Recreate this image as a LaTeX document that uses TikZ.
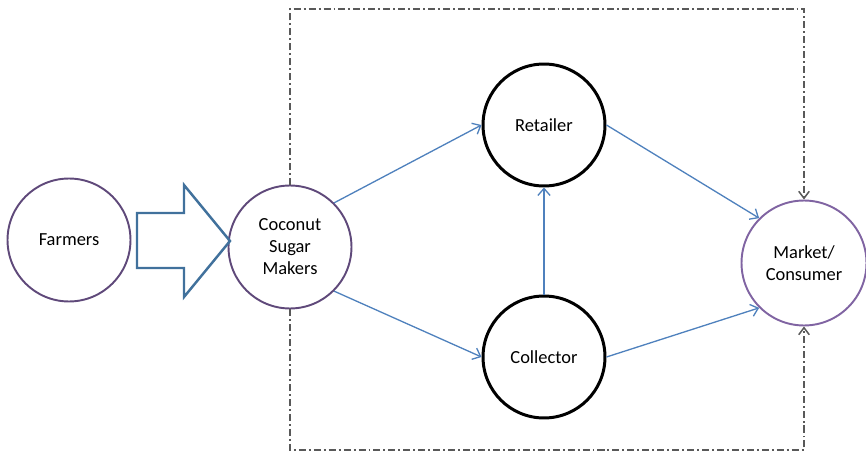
\documentclass[tikz,border=0pt]{standalone}
\usepackage{fontspec}
\setmainfont{Carlito}
\usetikzlibrary{arrows.meta}

\definecolor{ringpurple}{HTML}{5F497A}
\definecolor{marketpurple}{HTML}{8064A2}
\definecolor{flowblue}{HTML}{4F81BD}
\definecolor{pushblue}{HTML}{41719C}
\definecolor{bordergray}{HTML}{595959}

\tikzset{
	actor/.style={circle, draw=ringpurple, line width=1.1pt, minimum size=2.46cm, inner sep=0pt, align=center},
	trader/.style={circle, draw=black, line width=1.7pt, minimum size=2.44cm, inner sep=0pt, align=center},
	flow/.style={flowblue, line width=0.75pt, -{Straight Barb[length=4pt,width=7pt]}},
	border/.style={bordergray, line width=0.85pt, dash pattern=on 4pt off 1.7pt on 1.1pt off 1.7pt},
}

\begin{document}
\begin{tikzpicture}[x=0.02cm, y=-0.02cm, font=\fontsize{10.5}{12.5}\selectfont]
	
	\useasboundingbox (0,0) rectangle (866,453);
	
	% the chain
	\node[actor] (farmers) at (69,240) {Farmers};
	\node[actor] (makers) at (290,247) {Coconut\\Sugar\\Makers};
	\node[trader] (retailer) at (544,125) {Retailer};
	\node[trader] (collector) at (544,357) {Collector};
	\node[actor, draw=marketpurple, minimum size=2.5cm] (market) at (804,263) {Market/\\Consumer};
	
	% block arrow from the farmers
	\coordinate (tip) at (230,241);
	\draw[pushblue, line width=1.4pt, line join=miter] (137,213) -- (184,213) -- (184,185) -- (tip)
		-- (184,297) -- (184,268) -- (137,268) -- cycle;
	
	% dashed frame
	\coordinate (tl) at (290,9);
	\coordinate (tr) at (804,9);
	\coordinate (bl) at (290,450);
	\coordinate (br) at (804,450);
	\draw[border, -{Straight Barb[length=4pt,width=6pt]}] (makers.north) -- (tl) -- (tr) -- (market.north);
	\draw[border, -{Straight Barb[length=4pt,width=6pt]}] (makers.south) -- (bl) -- (br) -- (market.south);
	
	% flows
	\draw[flow] (makers.45) -- (retailer.west);
	\draw[flow] (makers.-45) -- (collector.west);
	\draw[flow] (collector.north) -- (retailer.south);
	\draw[flow] (retailer.east) -- (market.135);
	\draw[flow] (collector.east) -- (market.-135);
	
\end{tikzpicture}
\end{document}
